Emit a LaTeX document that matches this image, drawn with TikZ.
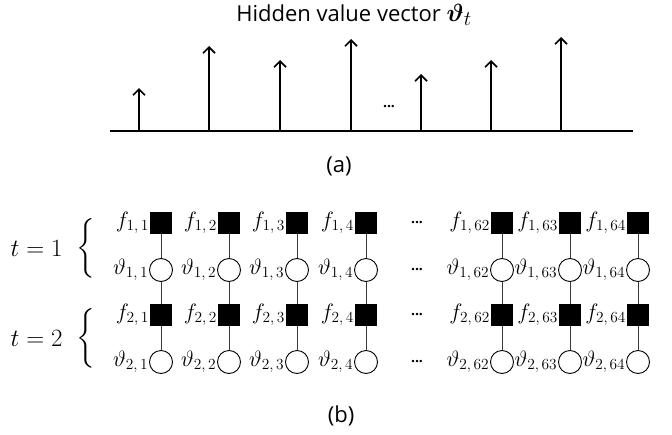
\documentclass[tikz,border=0pt]{standalone}
\usepackage{amsmath,amssymb}
\usepackage{fontspec}
\newfontfamily\capfont{Open Sans}
\usetikzlibrary{arrows.meta,positioning}
\definecolor{edgegray}{HTML}{3A3A3A}

\begin{document}
\begin{tikzpicture}[
    x=1pt, y=1pt,
    caption/.style={font=\capfont\fontsize{22}{26}\selectfont, inner sep=0pt},
    mathtxt/.style={font=\Huge, inner sep=0.5pt},
    lbl/.style={font=\huge, inner sep=0.5pt, scale=1.07, transform shape},
    factor/.style={rectangle, fill=black, minimum size=22pt, inner sep=0pt},
    var/.style={circle, draw=black, fill=white, line width=0.9pt, minimum size=23pt, inner sep=0pt},
    stem/.style={-{Straight Barb[length=6pt,width=12pt]}, line width=1.7pt},
    link/.style={draw=edgegray, line width=0.9pt},
    dotsym/.style={font=\capfont\bfseries\fontsize{14}{16}\selectfont, inner sep=0pt}
]
\useasboundingbox (0,0) rectangle (672,-434);

% (a) Hidden value vector
\node[caption, anchor=base] (title) at (354,-21) {Hidden value vector {\Huge$\boldsymbol{\vartheta}_t$}};
\coordinate (axisL) at (110,-131);
\coordinate (axisR) at (633,-131);
\draw[line width=2.6pt] (axisL) -- (axisR);
\foreach \k/\x/\h in {1/139/88, 2/209/46, 3/280/60, 4/351/39, 5/421/74, 6/491/60, 7/561/37} {
    \coordinate (base\k) at (\x,-131);
    \coordinate (tip\k) at (\x,-\h);
    \draw[stem] (base\k) -- (tip\k);
}
\node[dotsym] (dotsa) at (389,-107) {...};
\node[caption] (capa) at (339,-166) {(a)};

% (b) Factor graph, two time steps
\foreach \c/\x/\n in {1/161/1, 2/229/2, 3/297/3, 4/366/4, 5/502/62, 6/570/63, 7/638/64} {
    \node[factor, label={[lbl]left:$f_{1,\,\n}$}] (fa\c) at (\x,-223) {};
    \node[var, label={[lbl]left:$\vartheta_{1,\,\n}$}] (va\c) at (\x,-270) {};
    \node[factor, label={[lbl]left:$f_{2,\,\n}$}] (fb\c) at (\x,-315) {};
    \node[var, label={[lbl]left:$\vartheta_{2,\,\n}$}] (vb\c) at (\x,-362) {};
    \draw[link] (fa\c) -- (va\c) -- (fb\c) -- (vb\c);
}
\foreach \r/\y in {1/223, 2/270, 3/315, 4/362} {
    \node[dotsym] (dotsb\r) at (417,-\y) {...};
}

% time step braces
\node[mathtxt] (braceA) at (86,-248) {$\left\{\rule[-21pt]{0pt}{52pt}\right.$};
\node[mathtxt, left=12pt of braceA] (tA) {$t=1$};
\node[mathtxt] (braceB) at (86,-338) {$\left\{\rule[-21pt]{0pt}{52pt}\right.$};
\node[mathtxt, left=12pt of braceB] (tB) {$t=2$};

\node[caption] (capb) at (341,-416) {(b)};

\end{tikzpicture}
\end{document}
